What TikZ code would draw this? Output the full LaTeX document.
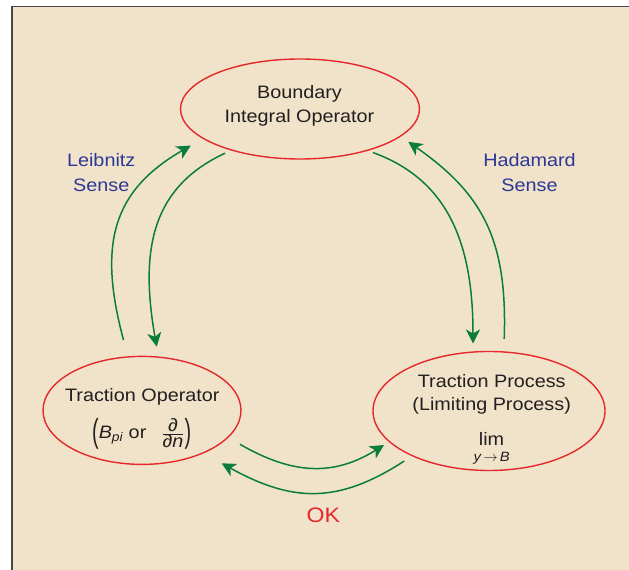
\documentclass[tikz,border=0pt]{standalone}
\usepackage{fontspec}
\setmainfont{Liberation Sans}[FakeStretch=1.1]
\usetikzlibrary{arrows.meta,shapes.geometric}

\definecolor{paper}{RGB}{240,227,201}
\definecolor{frameline}{RGB}{75,70,70}
\definecolor{ovalred}{RGB}{230,40,45}
\definecolor{arrowgreen}{RGB}{10,125,60}
\definecolor{senseblue}{RGB}{45,55,150}
\definecolor{ink}{RGB}{35,31,32}

% tall thin parentheses for the traction operator
\newcommand{\tallparen}[1]{\raisebox{-4.2pt}{\scalebox{1}[1.85]{#1}}}

\begin{document}
\begin{tikzpicture}[x=1pt, y=1pt,
    oval/.style={draw=ovalred, line width=1.4pt, ellipse, inner sep=0pt},
    txt/.style={text=ink, align=center, inner sep=1pt, font=\fontsize{18}{23.7}\selectfont},
    sense/.style={text=senseblue, align=center, inner sep=1pt, font=\fontsize{18}{25}\selectfont},
    flow/.style={draw=arrowgreen, line width=1.5pt, -{Stealth[length=14pt,width=14pt,inset=4pt]}}]

        \useasboundingbox (0,0) rectangle (629,570);
        \fill[paper] (12,0) rectangle (629,563.5);
        \draw[frameline, line width=1.6pt] (12,0) -- (12,563.5) -- (629,563.5);

        % the three ovals
        \node[oval, minimum width=239, minimum height=100] (bio) at (300,461) {};
        \node[oval, minimum width=198, minimum height=108] (trop) at (142,159.6) {};
        \node[oval, minimum width=232, minimum height=119] (tpr) at (489,159) {};

        \node[txt] (bio-text) at (299.5,463.8) {Boundary\\Integral Operator};
        \node[txt] (trop-text) at (142.3,173) {Traction Operator};
        \node[txt] (trop-math) at (141.7,136)
            {$\mbox{\tallparen{(}}\mbox{\itshape B\textsubscript{pi}}\mbox{ or }\;\;\frac{\mbox{\itshape ∂}}{\mbox{\itshape ∂n}}\mbox{\tallparen{)}}$};
        \node[txt] (tpr-text) at (491.7,175.8) {Traction Process\\(Limiting Process)};
        \node[txt] (lim) at (491.5,131.5) {lim};
        \node[text=ink, inner sep=1pt, font=\fontsize{13.5}{13.5}\selectfont\itshape] (lim-sub) at (491.7,112) {y\,$\rightarrow$\,B};

        \node[sense] (leib) at (101.2,397.4) {Leibnitz\\Sense};
        \node[sense] (hada) at (529.5,397.4) {Hadamard\\Sense};
        \node[text=ovalred, inner sep=1pt, font=\fontsize{21}{21}\selectfont] (ok) at (323.3,55) {OK};

        % Leibnitz pair
        \draw[flow] ([shift={(-18.5,70.4)}]trop.center) .. controls +(105:100) and +(210:90) .. ([shift={(-109.2,-36.6)}]bio.center);
        \draw[flow] ([shift={(-75,-44.2)}]bio.center) .. controls +(205:80) and +(100:100) .. ([shift={(14.7,63.7)}]trop.center);

        % Hadamard pair
        \draw[flow] ([shift={(73.1,-43.6)}]bio.center) .. controls +(-20:80) and +(90:100) .. ([shift={(-16,67.5)}]tpr.center);
        \draw[flow] ([shift={(15.2,72.2)}]tpr.center) .. controls +(88:100) and +(-35:90) .. ([shift={(108.3,-32.8)}]bio.center);

        % bottom pair
        \draw[flow] ([shift={(98,-33.9)}]trop.center) .. controls +(-30:60) and +(-148:60) .. ([shift={(-105,-34)}]tpr.center);
        \draw[flow] ([shift={(-84.7,-50)}]tpr.center) .. controls +(213:80) and +(-29:80) .. ([shift={(79.7,-52.9)}]trop.center);
\end{tikzpicture}
\end{document}
